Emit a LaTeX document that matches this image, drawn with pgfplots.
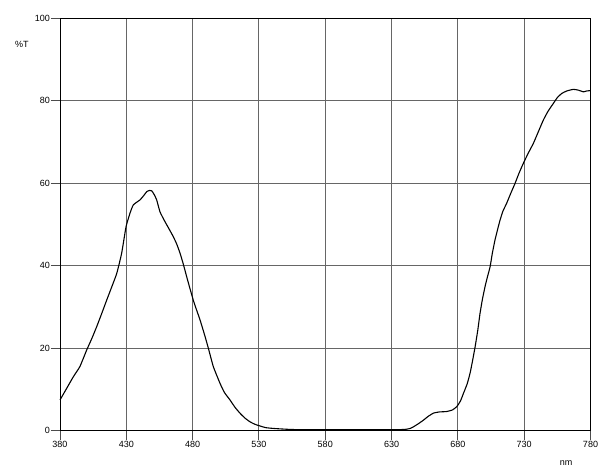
\documentclass[border=0pt]{standalone}
\usepackage{fontspec}
\setmainfont{Liberation Sans}
\usepackage{pgfplots}
\pgfplotsset{compat=1.18}
\begin{document}
\fontsize{9}{11}\selectfont
\begin{tikzpicture}
\begin{axis}[
  at={(0,0)}, anchor=south west,
  scale only axis,
  width=530.5pt, height=412.5pt,
  xmin=380, xmax=780, ymin=0, ymax=100,
  xtick={380,430,...,780},
  ytick={0,20,...,100},
  grid=major,
  major grid style={black!60, line width=0.9pt},
  axis line style={black, line width=0.9pt},
  tick align=outside,
  major tick length=9pt,
  tick style={black!70, line width=0.9pt},
  xtick pos=bottom, ytick pos=left,
  /pgf/number format/assume math mode=true,
  /pgf/number format/1000 sep={},
  tick label style={font=\fontsize{9}{11}\selectfont},
  yticklabel style={inner sep=1pt},
  xticklabel style={inner sep=1pt, yshift=-1pt},
  clip=false,
]
\addplot[black, line width=1.1pt, smooth, tension=0.3] coordinates {
(380,7.4) (385,10.2) (390,13.0) (395,15.5) (400.1,19.5) (404,22.3) (407.7,25.2)
(411.5,28.4) (415.2,31.6) (419,34.8) (422.8,38.1) (426.5,43.0) (429.8,49.4)
(432.8,52.7) (435.3,54.7) (440.3,55.9) (443,56.9) (445.4,57.9) (447.5,58.2) (449.2,58.1)
(451,57.2) (452.9,55.9) (455.4,53.0) (459.2,50.6) (462,49.0) (465.4,47.0) (468,45.2)
(470.5,43.0) (473,40.3) (475.5,37.3) (478,34.4) (480.5,31.6) (483,29.2) (485.6,26.8)
(489,23.2) (491.9,19.9) (495.6,15.5) (500.7,11.4) (504,9.2) (508.2,7.4) (512,5.6)
(515.7,4.2) (519.5,3.0) (523.3,2.1) (527,1.5) (530.8,1.1) (535,0.7) (540.9,0.5)
(551,0.3) (560,0.2) (580,0.2) (600,0.2) (620,0.2) (635,0.2) (641,0.3) (644,0.5)
(646.5,0.9) (650,1.6) (654,2.5) (657.5,3.4) (661.5,4.2) (666,4.5) (671.6,4.6)
(676,5.0) (679.2,5.8) (682,7.2) (684.2,9.0) (687,11.3) (689.2,13.9) (691,16.8)
(693,20.3) (695,24.3) (696.7,28.4) (698.5,31.8) (700.5,34.9) (702.5,37.5) (704.3,39.7)
(706,43.0) (708,46.2) (710,48.8) (711.8,51.0) (714,53.2) (716.8,55.1) (720,57.6)
(723.1,59.9) (726,62.3) (729.4,64.8) (733,67.2) (736.9,69.6) (740.5,72.3) (744.5,75.3)
(748,77.4) (752,79.3) (755,80.7) (758.3,81.7) (762,82.3) (767.1,82.7) (771,82.5)
(774.6,82.1) (777,82.3) (780,82.4)
};
\node[anchor=center] at (axis cs:{380-(60-22)*50/66.3},{(430.5-44)/4.125}) {\%T};
\node[anchor=center] at (axis cs:{380+(566-60)*50/66.3},{(430.5-463)/4.125}) {nm};
\end{axis}
\path[use as bounding box] (-60pt,-41.5pt) rectangle (556pt,430.5pt);
\end{tikzpicture}
\end{document}
